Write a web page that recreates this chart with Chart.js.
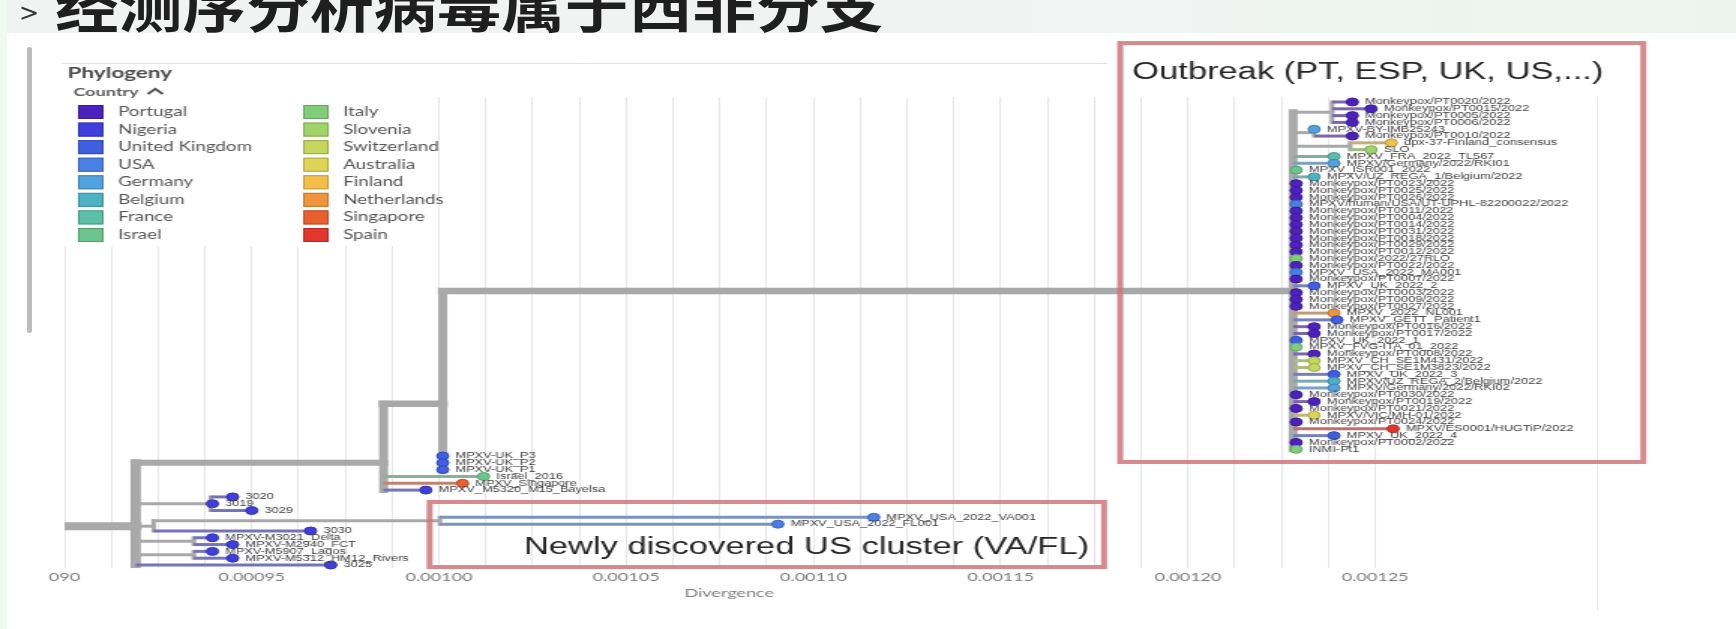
<!DOCTYPE html>
<html>
<head>
<meta charset="utf-8">
<script src="https://cdn.jsdelivr.net/npm/chart.js@4.4.1/dist/chart.umd.min.js"></script>
<style>
  html, body { margin: 0; padding: 0; width: 1736px; height: 629px; overflow: hidden; background: #fff; }
  #band { position: absolute; left: 0; top: 0; width: 1736px; height: 33px; background: linear-gradient(to right, #f1f3f3 0%, #f1f3f3 55%, #ebf5ed 100%); }
  #mint { position: absolute; left: 0; top: 0; width: 7px; height: 629px; background: #eefaf2; }
  #caret { position: absolute; left: 19px; top: 1px; font: 24px/24px "DejaVu Sans"; color: #333; }
  #title { position: absolute; left: 55px; top: -22px; font: bold 54px/54px "Noto Sans CJK SC"; color: #1f1f1f; white-space: nowrap; transform: scaleX(1.18); transform-origin: 0 0; }
  #scroll { position: absolute; left: 27px; top: 47px; width: 5px; height: 286px; background: #bdbdbd; border-radius: 2px; }
  #edge { position: absolute; left: 1597px; top: 97px; width: 1px; height: 513px; background: #e6e6e6; }
  #tree { position: absolute; left: 0; top: 0; }
</style>
</head>
<body>
<div id="band"></div>
<div id="mint"></div>
<div id="scroll"></div>
<div id="edge"></div>
<canvas id="tree" width="1157" height="629" style="width:1736px;height:629px"></canvas>
<div id="caret">&gt;</div>
<div id="title">经测序分析病毒属于西非分支</div>
<script>
// 国家 / 颜色
const countries = ['Portugal', 'Nigeria', 'United Kingdom', 'USA', 'Germany', 'Belgium', 'France', 'Israel',
  'Italy', 'Slovenia', 'Switzerland', 'Australia', 'Finland', 'Netherlands', 'Singapore', 'Spain'];
const countryColors = ['#4b22bd', '#3f3fdc', '#3f5fe0', '#4a80e6', '#52a2e0', '#4db3c4', '#5cbfa8', '#6cc68c',
  '#80cd7c', '#a0d46a', '#c2d75c', '#ddd454', '#f2c049', '#f0953b', '#ea5f31', '#e2372d'];

// x axis: grid every 0.0000125, labels on every 4th
const gridValues = [0.0009, 0.0009125, 0.000925, 0.0009375, 0.00095, 0.0009625, 0.000975, 0.0009875,
  0.001, 0.0010125, 0.001025, 0.0010375, 0.00105, 0.0010625, 0.001075, 0.0010875,
  0.0011, 0.0011125, 0.001125, 0.0011375, 0.00115, 0.0011625, 0.001175, 0.0011875,
  0.0012, 0.0012125, 0.001225, 0.0012375, 0.00125];
const tickLabels = ['090', '0.00095', '0.00100', '0.00105', '0.00110', '0.00115', '0.00120', '0.00125'];

// internal nodes of the tree (row = vertical position in tip units)
const nodeNames = ['root', 'N1', 'N2', 'N3', 'O', 'A', 'B', 'C', 'N5', 'N6', 'N7', 'N8', 'N9'];
const nodeParents = ['', 'root', 'N1', 'N2', 'N3', 'O', 'O', 'O', 'N1', 'N1', 'N6', 'N1', 'N1'];
const nodeDivergence = [0.0009003, 0.000919, 0.0009852, 0.001001, 0.0012281, 0.0012385, 0.0012337, 0.0012433,
  0.000939, 0.0009238, 0.0010002, 0.0009345, 0.0009345];
const nodeRows = [62.3, 62.3, 53, 44.3, 27.75, 1.5, 4.5, 6.5, 59, 62.3, 61.5, 64.5, 66.5];

// tips, top to bottom (row = index)
const tipNames = [
  'Monkeypox/PT0020/2022', 'Monkeypox/PT0015/2022', 'Monkeypox/PT0005/2022', 'Monkeypox/PT0006/2022',
  'MPXV-BY-IMB25243', 'Monkeypox/PT0010/2022', 'dpx-37-Finland_consensus', 'SLO',
  'MPXV_FRA_2022_TL567', 'MPXV/Germany/2022/RKI01', 'MPXV_ISR001_2022', 'MPXV/UZ_REGA_1/Belgium/2022',
  'Monkeypox/PT0023/2022', 'Monkeypox/PT0025/2022', 'Monkeypox/PT0026/2022', 'MPXV/human/USA/UT-UPHL-82200022/2022',
  'Monkeypox/PT0011/2022', 'Monkeypox/PT0004/2022', 'Monkeypox/PT0014/2022', 'Monkeypox/PT0031/2022',
  'Monkeypox/PT0018/2022', 'Monkeypox/PT0029/2022', 'Monkeypox/PT0012/2022', 'Monkeypox/2022/27RLO',
  'Monkeypox/PT0022/2022', 'MPXV_USA_2022_MA001', 'Monkeypox/PT0007/2022', 'MPXV_UK_2022_2',
  'Monkeypox/PT0003/2022', 'Monkeypox/PT0009/2022', 'Monkeypox/PT0027/2022', 'MPXV_2022_NL001',
  'MPXV_GETT_Patient1', 'Monkeypox/PT0016/2022', 'Monkeypox/PT0017/2022', 'MPXV_UK_2022_1',
  'MPXV_FVG-ITA_01_2022', 'Monkeypox/PT0008/2022', 'MPXV_CH_SE1M431/2022', 'MPXV_CH_SE1M3823/2022',
  'MPXV_UK_2022_3', 'MPXV/UZ_REGA_2/Belgium/2022', 'MPXV/Germany/2022/RKI02', 'Monkeypox/PT0030/2022',
  'Monkeypox/PT0019/2022', 'Monkeypox/PT0021/2022', 'MPXV/VIC/MH-01/2022', 'Monkeypox/PT0024/2022',
  'MPXV/ES0001/HUGTiP/2022', 'MPXV_UK_2022_4', 'Monkeypox/PT0002/2022', 'INMI-Pt1',
  'MPXV-UK_P3', 'MPXV-UK_P2', 'MPXV-UK_P1', 'Israel_2016', 'MPXV_Singapore', 'MPXV_M5320_M15_Bayelsa',
  '3020', '3019', '3029', 'MPXV_USA_2022_VA001', 'MPXV_USA_2022_FL001', '3030',
  'MPXV-M3021_Delta', 'MPXV-M2940_FCT', 'MPXV-M5907_Lagos', 'MPXV-M5312_HM12_Rivers', '3025'
];
const tipCountries = [
  'Portugal', 'Portugal', 'Portugal', 'Portugal', 'Germany', 'Portugal', 'Finland', 'Slovenia',
  'France', 'Germany', 'Israel', 'Belgium', 'Portugal', 'Portugal', 'Portugal', 'USA',
  'Portugal', 'Portugal', 'Portugal', 'Portugal', 'Portugal', 'Portugal', 'Portugal', 'Italy',
  'Portugal', 'USA', 'Portugal', 'United Kingdom', 'Portugal', 'Portugal', 'Portugal', 'Netherlands',
  'United Kingdom', 'Portugal', 'Portugal', 'United Kingdom', 'Italy', 'Portugal', 'Switzerland', 'Switzerland',
  'United Kingdom', 'Belgium', 'Germany', 'Portugal', 'Portugal', 'Portugal', 'Australia', 'Portugal',
  'Spain', 'United Kingdom', 'Portugal', 'Italy',
  'United Kingdom', 'United Kingdom', 'United Kingdom', 'Israel', 'Singapore', 'Nigeria',
  'Nigeria', 'Nigeria', 'Nigeria', 'USA', 'USA', 'Nigeria',
  'Nigeria', 'Nigeria', 'Nigeria', 'Nigeria', 'Nigeria'
];
const tipDivergence = [
  0.0012439, 0.0012489, 0.0012439, 0.0012439, 0.0012337, 0.0012439, 0.0012543, 0.0012489,
  0.001239, 0.001239, 0.0012289, 0.0012337, 0.0012289, 0.0012289, 0.0012289, 0.0012289,
  0.0012289, 0.0012289, 0.0012289, 0.0012289, 0.0012289, 0.0012289, 0.0012289, 0.0012289,
  0.0012289, 0.0012289, 0.0012289, 0.0012337, 0.0012289, 0.0012289, 0.0012289, 0.001239,
  0.0012398, 0.0012337, 0.0012337, 0.0012289, 0.0012289, 0.0012337, 0.0012337, 0.0012337,
  0.001239, 0.001239, 0.001239, 0.0012289, 0.0012337, 0.0012289, 0.0012337, 0.0012289,
  0.0012548, 0.001239, 0.0012289, 0.0012289,
  0.001001, 0.001001, 0.001001, 0.0010119, 0.0010063, 0.0009965,
  0.0009449, 0.0009395, 0.00095, 0.0011161, 0.0010905, 0.0009657,
  0.0009395, 0.0009449, 0.0009395, 0.0009449, 0.0009711
];
const tipParents = [
  'A', 'A', 'A', 'A', 'B', 'B', 'C', 'C',
  'O', 'O', 'O', 'O', 'O', 'O', 'O', 'O',
  'O', 'O', 'O', 'O', 'O', 'O', 'O', 'O',
  'O', 'O', 'O', 'O', 'O', 'O', 'O', 'O',
  'O', 'O', 'O', 'O', 'O', 'O', 'O', 'O',
  'O', 'O', 'O', 'O', 'O', 'O', 'O', 'O',
  'O', 'O', 'O', 'O',
  'N3', 'N3', 'N3', 'N2', 'N2', 'N2',
  'N5', 'N5', 'N5', 'N7', 'N7', 'N6',
  'N8', 'N8', 'N9', 'N9', 'N1'
];

// highlighted clusters (divergence range, row range)
const annotationText = ['Outbreak (PT, ESP, UK, US,...)', 'Newly discovered US cluster (VA/FL)'];
const annotationX = [[0.0011819, 0.0013216], [0.0009975, 0.0011776]];
const annotationRows = [[-8.66, 52.87], [58.75, 68.3]];

// ---- styles ----
const trunkGrey = '#a9a9a9';
const branchWidth = { N1: 8, N2: 6, N3: 6.5, O: 6.5 };
const verticalWidth = { N1: 7, N2: 6, N3: 6, O: 6 };

function hexRgb(h) { return [1, 3, 5].map(i => parseInt(h.slice(i, i + 2), 16)); }
function mix(a, b, t) {
  const p = hexRgb(a), q = hexRgb(b);
  return 'rgb(' + p.map((v, i) => Math.round(v * t + q[i] * (1 - t))).join(',') + ')';
}
const colorOf = c => countryColors[countries.indexOf(c)];

const nodeAt = {};
nodeNames.forEach((n, i) => { nodeAt[n] = { x: nodeDivergence[i], y: nodeRows[i] }; });

// children rows for vertical connectors
const childRows = {};
nodeParents.forEach((p, i) => { if (p) (childRows[p] = childRows[p] || []).push(nodeRows[i]); });
tipParents.forEach((p, i) => { (childRows[p] = childRows[p] || []).push(i); });

const datasets = [];

// tip dots
datasets.push({
  data: tipNames.map((n, i) => ({ x: tipDivergence[i], y: i })),
  pointRadius: 4,
  pointBackgroundColor: tipCountries.map(colorOf),
  pointBorderColor: tipCountries.map(c => mix(colorOf(c), '#000000', 0.8)),
  pointBorderWidth: 1,
  showLine: false,
  clip: false,
  order: 0
});

// tip branches
tipNames.forEach((n, i) => {
  const p = nodeAt[tipParents[i]];
  datasets.push({
    data: [{ x: p.x, y: i }, { x: tipDivergence[i], y: i }],
    showLine: true, pointRadius: 0, borderWidth: 3,
    borderColor: mix(colorOf(tipCountries[i]), '#a0a0a0', 0.45),
    borderCapStyle: 'butt', order: 1
  });
});

// internal branches + vertical connectors
nodeNames.forEach((n, i) => {
  if (nodeParents[i]) {
    const p = nodeAt[nodeParents[i]];
    datasets.push({
      data: [{ x: p.x, y: nodeRows[i] }, { x: nodeDivergence[i], y: nodeRows[i] }],
      showLine: true, pointRadius: 0, borderWidth: branchWidth[n] || 3,
      borderColor: trunkGrey, borderCapStyle: 'square', order: 2
    });
  }
  const rows = childRows[n];
  if (rows && rows.length > 1) {
    datasets.push({
      data: [{ x: nodeDivergence[i], y: Math.min(...rows) }, { x: nodeDivergence[i], y: Math.max(...rows) }],
      showLine: true, pointRadius: 0, borderWidth: verticalWidth[n] || 3,
      borderColor: trunkGrey, borderCapStyle: 'square', order: 3
    });
  }
});

// tip names next to the dots
const tipLabelPlugin = {
  id: 'tipLabels',
  afterDatasetsDraw(chart) {
    const { x, y } = chart.scales;
    const c = chart.ctx;
    c.save();
    c.font = '8.5px "Liberation Sans"';
    c.fillStyle = '#3c3c3c';
    c.textBaseline = 'middle';
    tipNames.forEach((n, i) => {
      c.fillText(n, x.getPixelForValue(tipDivergence[i]) + 8.5, y.getPixelForValue(i));
    });
    c.restore();
  }
};

// "Phylogeny / Country" legend in the top-left
const countryLegendPlugin = {
  id: 'countryLegend',
  afterDatasetsDraw(chart) {
    const c = chart.ctx;
    c.save();
    c.fillStyle = 'rgba(255,255,255,0.97)';
    c.fillRect(40, 66, 232, 180);
    c.strokeStyle = '#e0e0e0';
    c.lineWidth = 1;
    c.beginPath(); c.moveTo(41, 63.5); c.lineTo(738, 63.5); c.stroke();
    c.textBaseline = 'middle';
    c.fillStyle = '#4a4a4a';
    c.font = 'bold 15px Lato';
    c.fillText('Phylogeny', 45, 73);
    c.fillStyle = '#5a5a5a';
    c.font = 'bold 12px Lato';
    c.fillText('Country', 49, 92);
    c.strokeStyle = '#555';
    c.lineWidth = 2;
    c.beginPath(); c.moveTo(98.5, 94); c.lineTo(103.5, 89); c.lineTo(108.5, 94); c.stroke();
    c.lineWidth = 1;
    c.font = '12.5px Lato';
    countries.forEach((name, i) => {
      const sx = i < 8 ? 52 : 202;
      const cy = 112 + (i % 8) * 17.57;
      c.fillStyle = countryColors[i];
      c.fillRect(sx, cy - 7, 17, 14);
      c.strokeStyle = mix(countryColors[i], '#000000', 0.8);
      c.strokeRect(sx + 0.5, cy - 6.5, 16, 13);
      c.fillStyle = '#555';
      c.fillText(name, sx + 26.7, cy);
    });
    c.restore();
  }
};

// red boxes around the two clusters
const clusterBoxPlugin = {
  id: 'clusterBoxes',
  afterDraw(chart) {
    const { x, y } = chart.scales;
    const c = chart.ctx;
    c.save();
    annotationText.forEach((text, i) => {
      const l = x.getPixelForValue(annotationX[i][0]);
      const r = x.getPixelForValue(annotationX[i][1]);
      const t = y.getPixelForValue(annotationRows[i][0]);
      const b = y.getPixelForValue(annotationRows[i][1]);
      c.strokeStyle = 'rgba(206,118,122,0.85)';
      c.lineWidth = 4;
      c.strokeRect(l, t, r - l, b - t);
      c.fillStyle = '#262626';
      c.font = '23px "Liberation Sans"';
      c.textBaseline = 'middle';
      if (i === 0) { c.textAlign = 'left'; c.fillText(text, l + 8, t + 30); }
      else { c.textAlign = 'right'; c.fillText(text, r - 10, b - 19); }
    });
    c.restore();
  }
};

Chart.defaults.font.family = 'Lato';

new Chart(document.getElementById('tree'), {
  type: 'scatter',
  data: { datasets },
  options: {
    responsive: false,
    devicePixelRatio: 1,
    animation: false,
    events: [],
    layout: { padding: { left: 43, right: 228, top: 97, bottom: 0 } },
    plugins: { legend: { display: false }, tooltip: { enabled: false } },
    scales: {
      x: {
        type: 'linear',
        min: 0.0009,
        max: 0.001255,
        afterBuildTicks: axis => { axis.ticks = gridValues.map(v => ({ value: v })); },
        afterFit: axis => { axis.height = 61; },
        grid: { color: '#e6e6e6', lineWidth: 1, drawTicks: false },
        border: { display: false },
        ticks: {
          autoSkip: false, maxRotation: 0, padding: 2, color: '#7a7a7a',
          font: { size: 12 },
          callback: (v, i) => (i % 4 === 0 ? tickLabels[i / 4] : '')
        },
        title: { display: true, text: 'Divergence', color: '#808080', font: { size: 12 }, padding: { top: 0, bottom: 29 } }
      },
      y: { type: 'linear', reverse: true, min: -0.734, max: 68.44, display: false }
    }
  },
  plugins: [countryLegendPlugin, tipLabelPlugin, clusterBoxPlugin]
});
</script>
</body>
</html>
